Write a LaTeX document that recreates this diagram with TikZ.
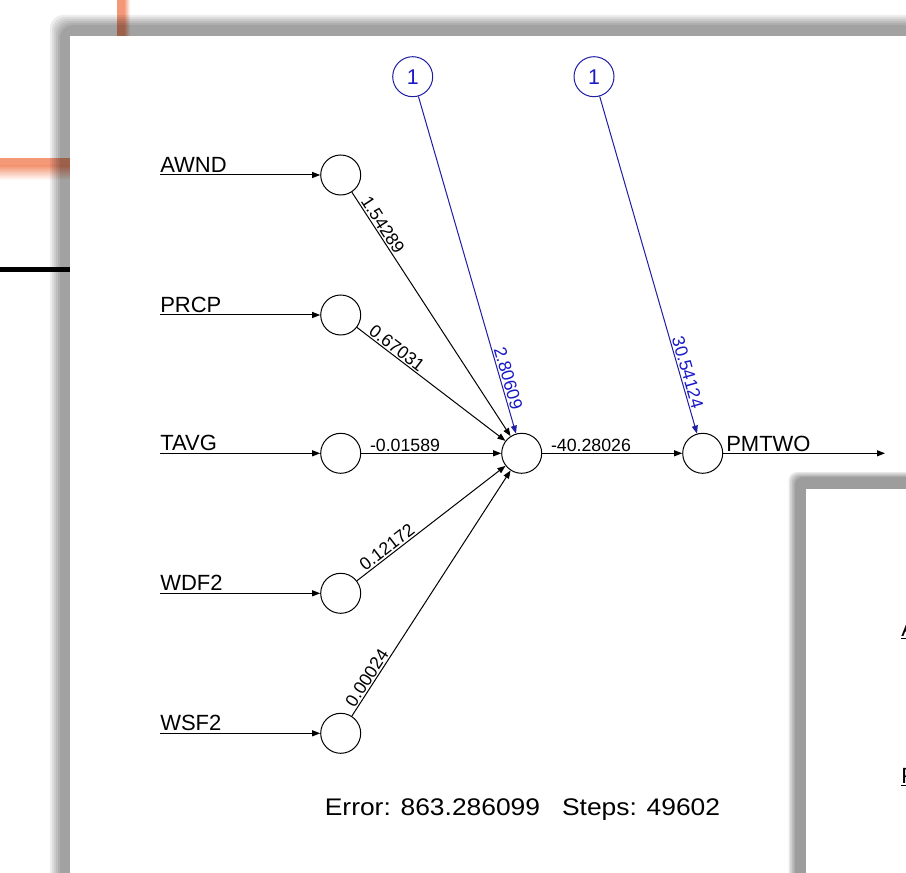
\documentclass[tikz,border=0pt]{standalone}
\usepackage{fontspec}
\setmainfont{Liberation Sans}
\newfontfamily\errfont[FakeStretch=1.1]{Liberation Sans}
\usetikzlibrary{arrows.meta,calc}
\definecolor{biasblue}{RGB}{25,25,200}
\definecolor{biasline}{RGB}{30,30,165}
\definecolor{salmon}{RGB}{244,152,120}
\begin{document}
\begin{tikzpicture}[x=0.75pt,y=-0.75pt,
  neuron/.style={circle,draw,line width=0.75pt,minimum size=30pt,inner sep=0pt},
  bias/.style={neuron,draw=biasline,text=biasblue,font=\fontsize{16}{18}\selectfont},
  conn/.style={line width=0.75pt,-{Triangle[length=6pt,width=4.5pt]}},
  bconn/.style={conn,draw=biasline},
  wlab/.style={sloped,inner sep=1pt,font=\fontsize{13.3}{15}\selectfont},
  inlab/.style={anchor=base west,inner sep=0pt,font=\fontsize{16.5}{18}\selectfont}]
\useasboundingbox (0,0) rectangle (906,873);
\clip (0,0) rectangle (906,873);
\fill[white] (0,0) rectangle (906,873);
% background fragments
\fill[salmon] (0,158.5) rectangle (70,166);
\shade[top color=salmon,bottom color=white] (0,166) rectangle (70,180);
\fill[salmon] (116.7,0) rectangle (124,36);
\shade[left color=salmon,right color=white] (124,0) rectangle (130,36);
\fill[black] (0,267) rectangle (70,272.5);
% main window shadow and window
\foreach \k in {0,...,5}
  \fill[black,opacity=0.072,rounded corners=10pt] ({60-2*\k},{25-2*\k}) rectangle (1000,1000);
\fill[white] (70,36) rectangle (1000,1000);
% neurons
\node[neuron] (i1) at (340.7,175) {};
\node[neuron] (i2) at (340.7,315) {};
\node[neuron] (i3) at (340.7,453.3) {};
\node[neuron] (i4) at (340.7,593.3) {};
\node[neuron] (i5) at (340.7,733.3) {};
\node[neuron] (h) at (521.7,453.3) {};
\node[neuron] (o) at (702.7,453.3) {};
\node[bias] (b1) at (412.7,76.7) {1};
\node[bias] (b2) at (594,76.7) {1};
% input labels and arrows
\coordinate (s1) at (160,175);
\coordinate (s2) at (160,315);
\coordinate (s3) at (160,453.3);
\coordinate (s4) at (160,593.3);
\coordinate (s5) at (160,733.3);
\draw[conn] (s1) -- (i1);
\draw[conn] (s2) -- (i2);
\draw[conn] (s3) -- (i3);
\draw[conn] (s4) -- (i4);
\draw[conn] (s5) -- (i5);
\node[inlab] (t1) at (160,172.5) {AWND};
\node[inlab] (t2) at (160,312.5) {PRCP};
\node[inlab] (t3) at (160,450.8) {TAVG};
\node[inlab] (t4) at (160,590.8) {WDF2};
\node[inlab] (t5) at (160,730.8) {WSF2};
% weighted connections
\draw[conn] (i1) -- node[wlab,pos=0.036,anchor=south west]{1.54289} (h);
\draw[conn] (i2) -- node[wlab,pos=0.055,anchor=south west]{0.67031} (h);
\draw[conn] (i3) -- node[wlab,pos=0.05,anchor=south west]{-0.01589} (h);
\draw[conn] (i4) -- node[wlab,pos=0.055,anchor=south west]{0.12172} (h);
\draw[conn] (i5) -- node[wlab,pos=0.022,anchor=south west]{0.00024} (h);
\draw[bconn] (b1) -- node[wlab,pos=0.939,anchor=south east,text=biasblue]{2.80609} (h);
\draw[bconn] (b2) -- node[wlab,pos=0.936,anchor=south east,text=biasblue]{30.54124} (o);
\draw[conn] (h) -- node[wlab,pos=0.05,anchor=south west]{-40.28026} (o);
\coordinate (out) at (885,453.3);
\draw[conn] (o) -- (out);
\node[inlab] (pm) at (726,451.5) {PMTWO};
\node[anchor=base,inner sep=0pt,font=\errfont\fontsize{18}{20}\selectfont] (err) at (522.5,815) {Error: 863.286099\ \ \ Steps: 49602};
% second window
\foreach \k in {0,...,4}
  \fill[black,opacity=0.09,rounded corners=6pt] ({795-1.6*\k},{477-1.2*\k}) rectangle (1000,1000);
\fill[white] (806,489) rectangle (1000,1000);
\node[inlab] (f1) at (901,636) {A};
\node[inlab] (f2) at (901,783) {P};
\draw[line width=0.75pt] (901,638.5) -- (906,638.5);
\draw[line width=0.75pt] (901,785.5) -- (906,785.5);
\end{tikzpicture}
\end{document}
